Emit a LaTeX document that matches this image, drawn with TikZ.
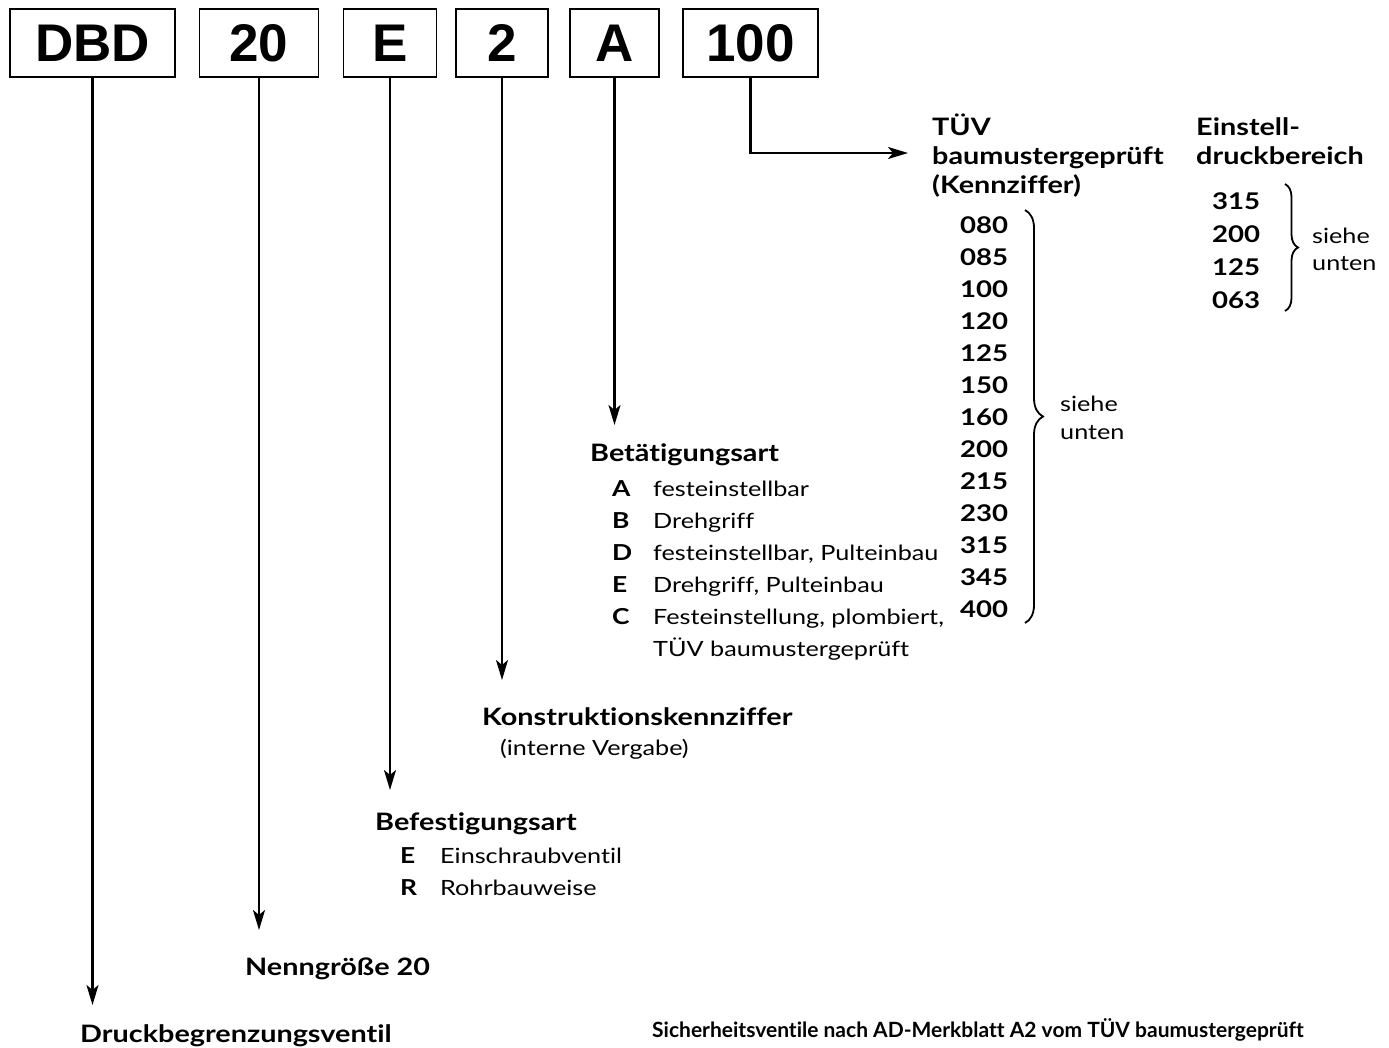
\documentclass[tikz,border=0pt]{standalone}
\usepackage{fontspec}
\setmainfont{Lato}[FakeStretch=1.2,Ligatures=NoCommon]
\newfontfamily\capfont{Lato}[Ligatures=NoCommon]
\newfontfamily\boxfont{Liberation Sans}
\usetikzlibrary{arrows.meta,decorations.pathreplacing}
\tikzset{
  codebox/.style={draw,line width=1.5pt,minimum height=68pt,inner sep=0pt,
    font=\boxfont\bfseries\fontsize{53}{53}\selectfont},
  arr/.style={line width=2.2pt,-{Stealth[length=20pt,width=12pt,inset=5pt]}},
  head/.style={anchor=base west,inner sep=0pt,font=\bfseries\fontsize{24}{24}\selectfont},
  reg/.style={anchor=base west,inner sep=0pt,font=\fontsize{21}{21}\selectfont},
  key/.style={anchor=base west,inner sep=0pt,font=\bfseries\fontsize{22}{22}\selectfont},
  num/.style={anchor=base west,inner sep=0pt,font=\bfseries\fontsize{23}{23}\selectfont},
  brc/.style={line width=1.8pt,decorate,decoration={brace,amplitude=#1}},
  brc/.default=11pt,
}
\begin{document}
\begin{tikzpicture}[x=1pt,y=-1pt]
\useasboundingbox (0,0) rectangle (1389,1047);
% code boxes
\node[codebox,minimum width=165pt] (bDBD) at (92.5,43) {DBD};
\node[codebox,minimum width=119pt] (b20) at (259,43) {20};
\node[codebox,minimum width=93pt] (bE) at (390,43) {E};
\node[codebox,minimum width=92pt] (b2) at (502,43) {2};
\node[codebox,minimum width=89pt] (bA) at (614.5,43) {A};
\node[codebox,minimum width=135pt] (b100) at (750.5,43) {100};
% arrow end coordinates
\coordinate (tDBD) at (92.5,1005);
\coordinate (t20) at (259,930);
\coordinate (tE) at (390,790);
\coordinate (t2) at (502,680);
\coordinate (tA) at (614.5,425);
\coordinate (c100) at (750.5,153);
\coordinate (t100) at (908,153);
\draw[arr] (bDBD.south) -- (tDBD);
\draw[arr] (b20.south) -- (t20);
\draw[arr] (bE.south) -- (tE);
\draw[arr] (b2.south) -- (t2);
\draw[arr] (bA.south) -- (tA);
\draw[arr] (b100.south) -- (c100) -- (t100);
% texts
\node[head] (druck) at (80,1042) {Druckbegrenzungsventil};
\node[head] (nenn) at (245,975) {Nenngröße 20};
\node[head] (befest) at (375,830) {Befestigungsart};
\node[key] (befE) at (400,863) {E};
\node[reg] (befEt) at (440,863) {Einschraubventil};
\node[key] (befR) at (400,895) {R};
\node[reg] (befRt) at (440,895) {Rohrbauweise};
\node[head] (konst) at (482,725) {Konstruktionskennziffer};
\node[reg] (intern) at (500,755) {(interne Vergabe)};
\node[head] (betaet) at (590,461) {Betätigungsart};
\node[key] (kA) at (612,496) {A};
\node[reg] (tA1) at (653,496) {festeinstellbar};
\node[key] (kB) at (612,528) {B};
\node[reg] (tB1) at (653,528) {Drehgriff};
\node[key] (kD) at (612,560) {D};
\node[reg] (tD1) at (653,560) {festeinstellbar, Pulteinbau};
\node[key] (kE) at (612,592) {E};
\node[reg] (tE1) at (653,592) {Drehgriff, Pulteinbau};
\node[key] (kC) at (612,624) {C};
\node[reg] (tC1) at (653,624) {Festeinstellung, plombiert,};
\node[reg] (tC2) at (653,656) {TÜV baumustergeprüft};
% TUV column
\node[head] (tuv1) at (932,135) {TÜV};
\node[head] (tuv2) at (932,164) {baumustergeprüft};
\node[head] (tuv3) at (932,193) {(Kennziffer)};
\foreach \v [count=\i] in {080,085,100,120,125,150,160,200,215,230,315,345,400}{
  \node[num] (n\i) at (960,{201+32*\i}) {\v};
}
\coordinate (brA1) at (1025,210);
\coordinate (brA2) at (1025,623);
\draw[brc=18pt] (brA1) -- (brA2);
\node[reg] (sieheA) at (1060,411) {siehe};
\node[reg] (untenA) at (1060,439) {unten};
% Einstelldruck column
\node[head] (ein1) at (1196,135) {Einstell-};
\node[head] (ein2) at (1196,164) {druckbereich};
\node[num] (m1) at (1212,209) {315};
\node[num] (m2) at (1212,242) {200};
\node[num] (m3) at (1212,275) {125};
\node[num] (m4) at (1212,308) {063};
\coordinate (brB1) at (1285,184);
\coordinate (brB2) at (1285,311);
\draw[brc=13pt] (brB1) -- (brB2);
\node[reg] (sieheB) at (1312,243) {siehe};
\node[reg] (untenB) at (1312,270) {unten};
% caption
\node[anchor=base west,inner sep=0pt,font=\capfont\bfseries\fontsize{21}{21}\selectfont] (cap) at (652,1037)
  {Sicherheitsventile nach AD-Merkblatt A2 vom TÜV baumustergeprüft};
\end{tikzpicture}
\end{document}
